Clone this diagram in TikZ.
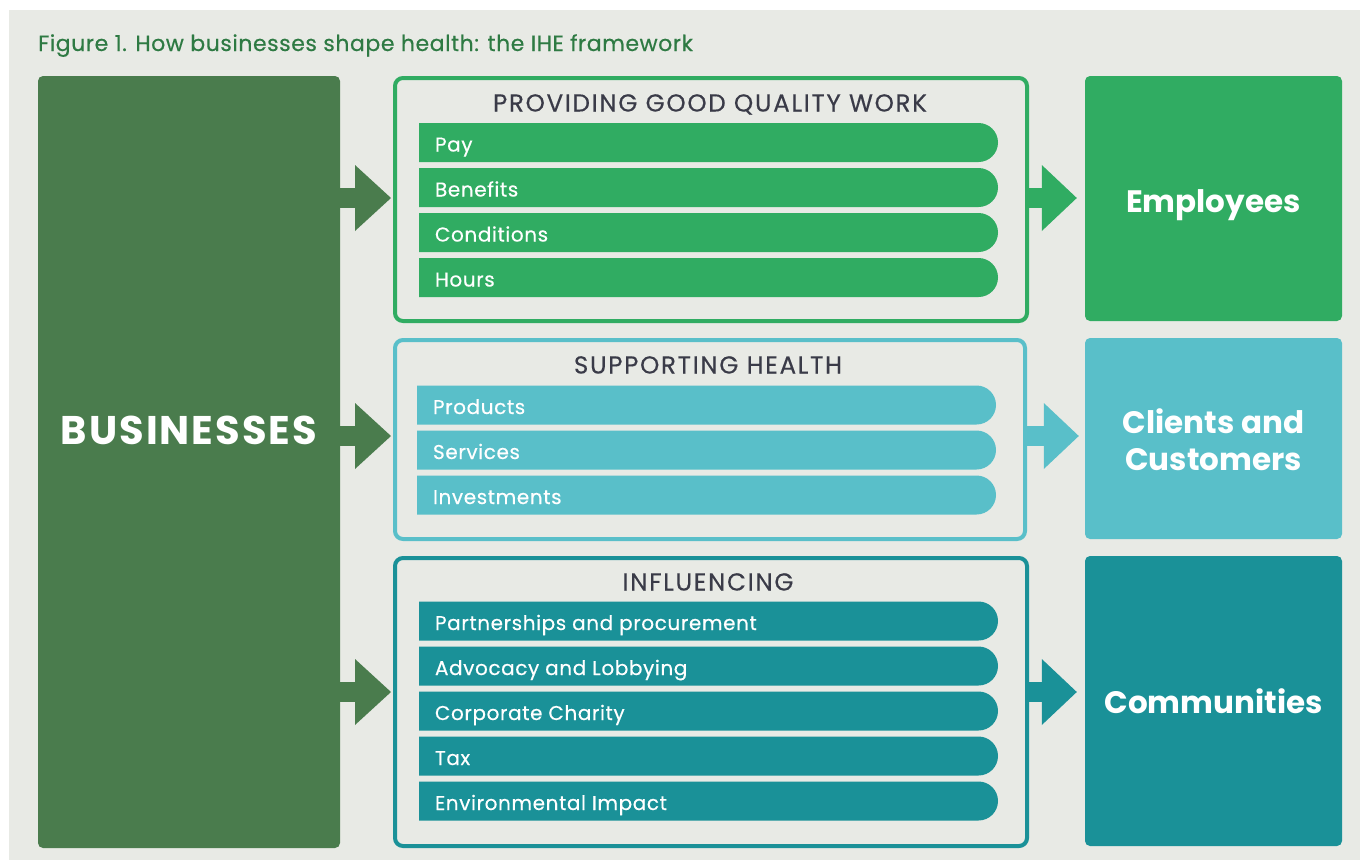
\documentclass[tikz,border=0pt]{standalone}
\usepackage{fontspec}
\setmainfont{Poppins}
\newfontfamily\titlefont[LetterSpace=2.5, FakeBold=0.4]{Poppins}
\newfontfamily\headfont[LetterSpace=7, FakeBold=0.3]{Poppins}
\newfontfamily\barfont[LetterSpace=3, FakeBold=0.4]{Poppins}
\newfontfamily\bizfont[LetterSpace=5]{Poppins}
\usetikzlibrary{arrows.meta,shapes.misc}
\definecolor{panel}{HTML}{E8EAE5}
\definecolor{bizgreen}{HTML}{4A7C4D}
\definecolor{qgreen}{HTML}{30AC62}
\definecolor{lblue}{HTML}{59BFC9}
\definecolor{teal}{HTML}{1A9198}
\definecolor{titlegreen}{HTML}{2E7A43}
\definecolor{headgrey}{HTML}{3A3B48}
\newcommand\mkbar[6]{%
  \node[barshape, fill=#4, minimum width=#6] (#1) at (#2,#3) {};
  \node[bartext] (#1t) at ([xshift=16pt,yshift=-9pt]#1.west) {#5};}
\begin{document}
\begin{tikzpicture}[x=1pt,y=-1pt,
  solidbox/.style={rectangle, rounded corners=5pt, inner sep=0pt, draw=none},
  framebox/.style={rectangle, rounded corners=8pt, line width=4pt, fill=none, inner sep=0pt},
  barshape/.style={rounded rectangle, rounded rectangle west arc=none, minimum height=39pt, inner sep=0pt},
  bartext/.style={anchor=base west, text=white, inner sep=0pt, font=\barfont\fontsize{20}{24}\selectfont},
  heading/.style={anchor=base, text=headgrey, inner sep=0pt, font=\headfont\fontsize{24.5}{28}\selectfont},
  bigtext/.style={anchor=base, text=white, inner sep=0pt, font=\bfseries\fontsize{31}{37}\selectfont},
  leftarrow/.style={line width=20pt, -{Triangle[length=36pt,width=66pt,line width=0pt]}, shorten >=2pt},
  rightarrow/.style={line width=20pt, -{Triangle[length=35pt,width=66pt,line width=0pt]}}
]
\useasboundingbox (0,0) rectangle (1360,860);
\fill[white] (0,0) rectangle (1360,860);
\fill[panel] (9,10) rectangle (1360,860);

\node[anchor=base west, text=titlegreen, inner sep=0pt, font=\titlefont\fontsize{22}{26}\selectfont] (title) at (38,51) {Figure 1. How businesses shape health: the IHE framework};

% businesses
\node[solidbox, fill=bizgreen, minimum width=302pt, minimum height=772pt] (biz) at (189,462) {};
\node[bigtext, font=\bizfont\bfseries\fontsize{40}{46}\selectfont] (biztext) at (189,444) {BUSINESSES};

% arrow heights
\coordinate (a1) at (0,198);
\coordinate (a2) at (0,436);
\coordinate (a3) at (0,692);

% frame boxes
\node[framebox, draw=qgreen, minimum width=632pt, minimum height=243pt] (box1) at (711,199.5) {};
\node[framebox, draw=lblue, minimum width=630pt, minimum height=199pt] (box2) at (710,439.5) {};
\node[framebox, draw=teal, minimum width=632pt, minimum height=288pt] (box3) at (711,702) {};

% right boxes
\node[solidbox, fill=qgreen, minimum width=257pt, minimum height=245pt] (emp) at (1213.5,198.5) {};
\node[solidbox, fill=lblue, minimum width=257pt, minimum height=201pt] (cli) at (1213.5,438.5) {};
\node[solidbox, fill=teal, minimum width=257pt, minimum height=290pt] (com) at (1213.5,701) {};
\node[bigtext] (emptext) at (1213.5,212) {Employees};
\node[bigtext] (clitext1) at (1213.5,433) {Clients and};
\node[bigtext] (clitext2) at (1213.5,470) {Customers};
\node[bigtext] (comtext) at (1213.5,713) {Communities};

% arrows
\draw[leftarrow, bizgreen] (biz.east |- a1) -- (box1.west |- a1);
\draw[leftarrow, bizgreen] (biz.east |- a2) -- (box2.west |- a2);
\draw[leftarrow, bizgreen] (biz.east |- a3) -- (box3.west |- a3);
\draw[rightarrow, qgreen, shorten >=8pt] (box1.east |- a1) -- (emp.west |- a1);
\draw[rightarrow, lblue, shorten >=6pt] (box2.east |- a2) -- (cli.west |- a2);
\draw[rightarrow, teal, shorten >=8pt] (box3.east |- a3) -- (com.west |- a3);

% headings
\node[heading] (h1) at (710,111.5) {PROVIDING GOOD QUALITY WORK};
\node[heading] (h2) at (708,373.5) {SUPPORTING HEALTH};
\node[heading] (h3) at (708,590.5) {INFLUENCING};

% bars
\mkbar{p1}{708.5}{142.5}{qgreen}{Pay}{579pt}
\mkbar{p2}{708.5}{187.5}{qgreen}{Benefits}{579pt}
\mkbar{p3}{708.5}{232.5}{qgreen}{Conditions}{579pt}
\mkbar{p4}{708.5}{277.5}{qgreen}{Hours}{579pt}

\mkbar{s1}{706.5}{405}{lblue}{Products}{579pt}
\mkbar{s2}{706.5}{450}{lblue}{Services}{579pt}
\mkbar{s3}{706.5}{495}{lblue}{Investments}{579pt}

\mkbar{i1}{708.5}{621}{teal}{Partnerships and procurement}{579pt}
\mkbar{i2}{708.5}{666}{teal}{Advocacy and Lobbying}{579pt}
\mkbar{i3}{708.5}{711}{teal}{Corporate Charity}{579pt}
\mkbar{i4}{708.5}{756}{teal}{Tax}{579pt}
\mkbar{i5}{708.5}{801}{teal}{Environmental Impact}{579pt}
\end{tikzpicture}
\end{document}
